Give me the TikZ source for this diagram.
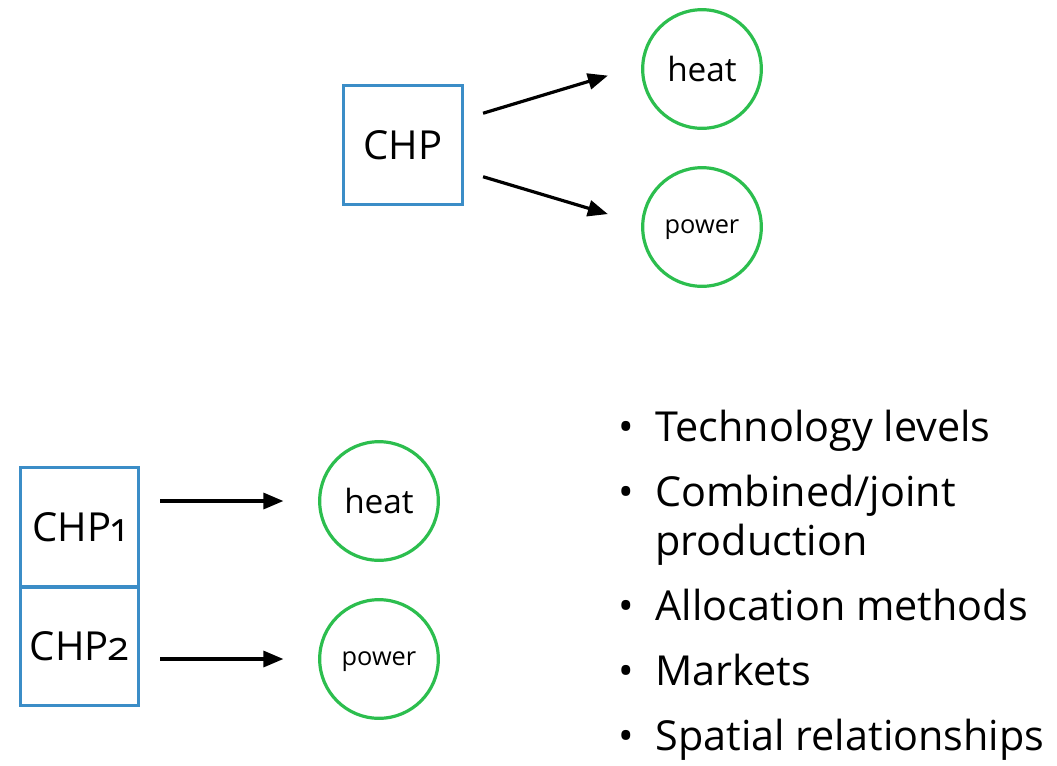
\documentclass[tikz,border=0pt]{standalone}
\usepackage{fontspec}
\setmainfont{Open Sans}
\usetikzlibrary{arrows.meta}

\definecolor{boxblue}{RGB}{59,141,199}
\definecolor{outgreen}{RGB}{44,190,78}

\tikzset{every picture/.style={line width=0.75pt}}
\tikzset{
  unit/.style={draw=boxblue, line width=2.4pt, minimum width=89pt, minimum height=89pt, inner sep=0pt, font=\fontsize{30}{36}\selectfont},
  product/.style={draw=outgreen, line width=2.4pt, circle, minimum size=89pt, inner sep=0pt},
  flow/.style={line width=2.4pt, -{Triangle[length=15pt,width=12pt]}, shorten <=15pt, shorten >=26pt},
  bul/.style={anchor=base, inner sep=0pt, font=\fontsize{31}{37}\selectfont},
  item/.style={anchor=base west, inner sep=0pt, font=\fontsize{31}{37}\selectfont}
}

\begin{document}
\begin{tikzpicture}[x=0.75pt,y=0.75pt,yscale=-1,xscale=1]
\useasboundingbox (0,0) rectangle (1057,765);

%Top CHP unit
\node [unit] (chp) at (403,145) {CHP};
\node [product, font=\fontsize{25}{30}\selectfont] (heat) at (702,69) {heat};
\node [product, text depth=0pt, font=\fontsize{19}{23}\selectfont] (power) at (702,227) {power};

%Straight Lines
\draw [flow] ([yshift=-26*0.75pt]chp.east) -- ([yshift=-3.4*0.75pt]heat.west) ;
\draw [flow] ([yshift=26*0.75pt]chp.east) -- ([yshift=-3*0.75pt]power.west) ;

%Bottom CHP units
\node [unit] (chpa) at (79.5,527) {CHP\addfontfeatures{Numbers=OldStyle}1};
\node [unit] (chpb) at (79.5,646.5) {CHP\addfontfeatures{Numbers=OldStyle}2};
\node [product, font=\fontsize{25}{30}\selectfont] (heatb) at (379,501) {heat};
\node [product, text depth=0pt, font=\fontsize{19}{23}\selectfont] (powerb) at (379,659) {power};

%Straight Lines
\draw [flow] (chpa.east |- heatb) -- (heatb) ;
\draw [flow] (chpb.east |- powerb) -- (powerb) ;

% Text Node
\node [bul] (b1) at (626,441) {•};
\node [item] (t1) at (655,441) {Technology levels};
% Text Node
\node [bul] (b2) at (626,506) {•};
\node [item] (t2) at (655,506) {Combined/joint};
\node [item] (t2b) at (655,555) {production};
% Text Node
\node [bul] (b3) at (626,620) {•};
\node [item] (t3) at (655,620) {Allocation methods};
% Text Node
\node [bul] (b4) at (626,685) {•};
\node [item] (t4) at (655,685) {Markets};
% Text Node
\node [bul] (b5) at (626,750) {•};
\node [item] (t5) at (655,750) {Spatial relationships};

\end{tikzpicture}
\end{document}
